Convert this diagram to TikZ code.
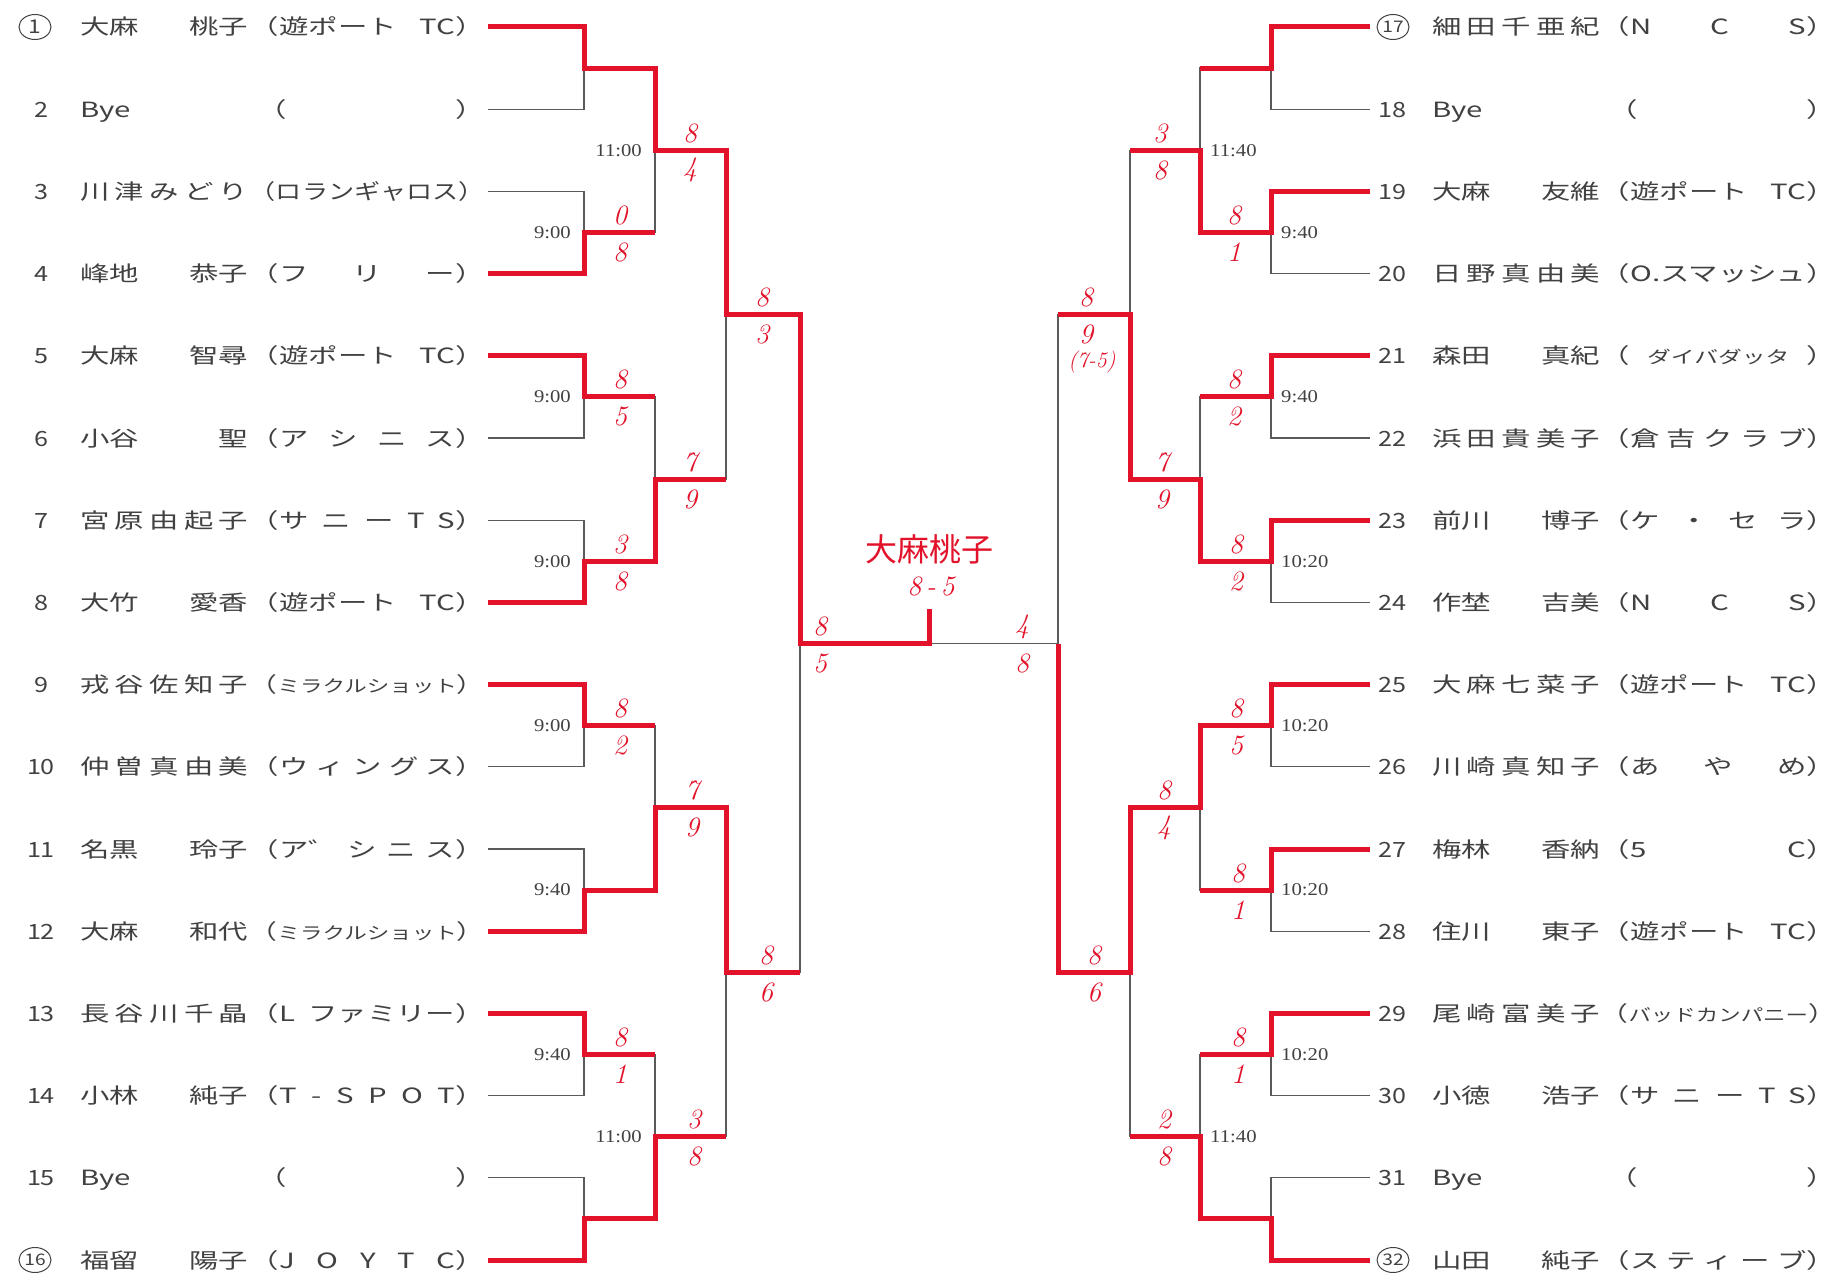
\documentclass[tikz,border=0pt]{standalone}
\usepackage{fontspec}
\usepackage{graphicx}
\usetikzlibrary{shapes.geometric}
\newfontfamily\jp{Noto Sans CJK JP}[FakeStretch=1.4]
\newfontfamily\jpn{Noto Sans CJK JP}[FakeStretch=1.2]
\newfontfamily\jph{Noto Sans CJK JP}
\newfontfamily\tmf{Liberation Serif}[FakeStretch=1.15]
\definecolor{pen}{RGB}{226,18,42}
\definecolor{lineg}{RGB}{90,90,90}
\definecolor{txt}{RGB}{65,65,65}
\newsavebox\fitb
\newcommand\fitto[2]{\sbox\fitb{#2}\ifdim\wd\fitb>#1\relax\resizebox{#1}{\height}{\usebox\fitb}\else\makebox[#1][l]{#2}\fi}
\newcommand\nmf[1]{\fitto{168pt}{#1}}
\newcommand\tmb[1]{\fitto{235pt}{#1}}
\newcommand\sml[1]{{\fontsize{17}{17}\selectfont #1}}
\newcommand\scp[5]{\node[sc] (#1a) at (#2,{#3-17}) {#4};\node[sc] (#1b) at (#2,{#3+20}) {#5};}
\begin{document}
\begin{tikzpicture}[x=1pt,y=-1pt,
 gl/.style={draw=lineg,line width=1.3pt},
 rl/.style={draw=pen,line width=5pt,line join=miter},
 nm/.style={font=\jp\fontsize{21}{21}\selectfont,text=txt,inner sep=0pt,text height=16pt,text depth=0pt},
 num/.style={font=\jpn\fontsize{21}{21}\selectfont,text=txt,inner sep=0pt,text height=16pt,text depth=0pt},
 cnum/.style={ellipse,draw=txt,line width=1pt,minimum width=32pt,minimum height=25pt,inner sep=0pt,font=\jpn\fontsize{19}{19}\selectfont,text=txt},
 tm/.style={font=\tmf\fontsize{18}{18}\selectfont,text=txt,inner sep=0pt},
 sc/.style={font=\fontsize{28}{28}\selectfont\itshape,text=pen,inner sep=0pt},
]
\useasboundingbox[fill=white] (0,0) rectangle (1843,1273);

% ---------- coordinates ----------
\foreach \i/\y in {1/27,2/109.2,3/191.4,4/273.6,5/355.8,6/438,7/520.2,8/602.4,9/684.6,10/766.8,11/849,12/931.2,13/1013.4,14/1095.6,15/1177.8,16/1260}
 {\coordinate (pL\i) at (488,\y); \coordinate (pR\i) at (1370,\y);}
\foreach \k/\y in {1/68.1,2/232.5,3/396.9,4/561.3,5/725.7,6/890.1,7/1054.5,8/1218.9}
 {\coordinate (LA\k) at (584,\y); \coordinate (RA\k) at (1271,\y);}
\foreach \k/\y in {1/150.3,2/479.1,3/807.9,4/1136.7}
 {\coordinate (LB\k) at (655,\y); \coordinate (RB\k) at (1200,\y);}
\foreach \k/\y in {1/314.7,2/972.3}
 {\coordinate (LC\k) at (726,\y); \coordinate (RC\k) at (1130,\y);}
\coordinate (LD) at (800,643.5);
\coordinate (RD) at (1058,643.5);
\coordinate (stubB) at (929,643.5);
\coordinate (stubT) at (929,609);

% ---------- left players ----------
\node[cnum] (nL1) at (35,27) {1};
\node[num] (nL2) at (41,109.2) {2};
\node[num] (nL3) at (41,191.4) {3};
\node[num] (nL4) at (41,273.6) {4};
\node[num] (nL5) at (41,355.8) {5};
\node[num] (nL6) at (41,438) {6};
\node[num] (nL7) at (41,520.2) {7};
\node[num] (nL8) at (41,602.4) {8};
\node[num] (nL9) at (41,684.6) {9};
\node[num] (nL10) at (41,766.8) {10};
\node[num] (nL11) at (41,849) {11};
\node[num] (nL12) at (41,931.2) {12};
\node[num] (nL13) at (41,1013.4) {13};
\node[num] (nL14) at (41,1095.6) {14};
\node[num] (nL15) at (41,1177.8) {15};
\node[cnum,font=\jpn\fontsize{16}{16}\selectfont] (nL16) at (35,1260) {16};

\node[nm,anchor=west] (aL1) at (80,27) {\nmf{大麻\hfill 桃子}};
\node[nm,anchor=west] (aL2) at (80,109.2) {\nmf{Bye}};
\node[nm,anchor=west] (aL3) at (80,191.4) {\nmf{川\hfill 津\hfill み\hfill ど\hfill り}};
\node[nm,anchor=west] (aL4) at (80,273.6) {\nmf{峰地\hfill 恭子}};
\node[nm,anchor=west] (aL5) at (80,355.8) {\nmf{大麻\hfill 智尋}};
\node[nm,anchor=west] (aL6) at (80,438) {\nmf{小谷\hfill 聖}};
\node[nm,anchor=west] (aL7) at (80,520.2) {\nmf{宮\hfill 原\hfill 由\hfill 起\hfill 子}};
\node[nm,anchor=west] (aL8) at (80,602.4) {\nmf{大竹\hfill 愛香}};
\node[nm,anchor=west] (aL9) at (80,684.6) {\nmf{戎\hfill 谷\hfill 佐\hfill 知\hfill 子}};
\node[nm,anchor=west] (aL10) at (80,766.8) {\nmf{仲\hfill 曽\hfill 真\hfill 由\hfill 美}};
\node[nm,anchor=west] (aL11) at (80,849) {\nmf{名黒\hfill 玲子}};
\node[nm,anchor=west] (aL12) at (80,931.2) {\nmf{大麻\hfill 和代}};
\node[nm,anchor=west] (aL13) at (80,1013.4) {\nmf{長\hfill 谷\hfill 川\hfill 千\hfill 晶}};
\node[nm,anchor=west] (aL14) at (80,1095.6) {\nmf{小林\hfill 純子}};
\node[nm,anchor=west] (aL15) at (80,1177.8) {\nmf{Bye}};
\node[nm,anchor=west] (aL16) at (80,1260) {\nmf{福留\hfill 陽子}};

\node[nm,anchor=east] (tL1) at (485,27) {\tmb{（遊ポート\hfill TC）}};
\node[nm,anchor=east] (tL2) at (485,109.2) {\tmb{\hspace*{8pt}（\hfill ）}};
\node[nm,anchor=east] (tL3) at (485,191.4) {\tmb{（ロランギャロス）}};
\node[nm,anchor=east] (tL4) at (485,273.6) {\tmb{（フ\hfill リ\hfill ー）}};
\node[nm,anchor=east] (tL5) at (485,355.8) {\tmb{（遊ポート\hfill TC）}};
\node[nm,anchor=east] (tL6) at (485,438) {\tmb{（ア\hfill シ\hfill ニ\hfill ス）}};
\node[nm,anchor=east] (tL7) at (485,520.2) {\tmb{（サ\hfill ニ\hfill ー\hfill T\hfill S）}};
\node[nm,anchor=east] (tL8) at (485,602.4) {\tmb{（遊ポート\hfill TC）}};
\node[nm,anchor=east] (tL9) at (485,684.6) {\tmb{（\hfill\sml{ミラクルショット}\hfill ）}};
\node[nm,anchor=east] (tL10) at (485,766.8) {\tmb{（ウ\hfill ィ\hfill ン\hfill グ\hfill ス）}};
\node[nm,anchor=east] (tL11) at (485,849) {\tmb{（ア゛\hfill シ\hfill ニ\hfill ス）}};
\node[nm,anchor=east] (tL12) at (485,931.2) {\tmb{（\hfill\sml{ミラクルショット}\hfill ）}};
\node[nm,anchor=east] (tL13) at (485,1013.4) {\tmb{（L\hfill ファミリー）}};
\node[nm,anchor=east] (tL14) at (485,1095.6) {\tmb{（T\hfill -\hfill S\hfill P\hfill O\hfill T）}};
\node[nm,anchor=east] (tL15) at (485,1177.8) {\tmb{\hspace*{8pt}（\hfill ）}};
\node[nm,anchor=east] (tL16) at (485,1260) {\tmb{（J\hfill O\hfill Y\hfill T\hfill C）}};

% ---------- right players ----------
\node[cnum,font=\jpn\fontsize{16}{16}\selectfont] (nR1) at (1393,27) {17};
\node[num] (nR2) at (1392,109.2) {18};
\node[num] (nR3) at (1392,191.4) {19};
\node[num] (nR4) at (1392,273.6) {20};
\node[num] (nR5) at (1392,355.8) {21};
\node[num] (nR6) at (1392,438) {22};
\node[num] (nR7) at (1392,520.2) {23};
\node[num] (nR8) at (1392,602.4) {24};
\node[num] (nR9) at (1392,684.6) {25};
\node[num] (nR10) at (1392,766.8) {26};
\node[num] (nR11) at (1392,849) {27};
\node[num] (nR12) at (1392,931.2) {28};
\node[num] (nR13) at (1392,1013.4) {29};
\node[num] (nR14) at (1392,1095.6) {30};
\node[num] (nR15) at (1392,1177.8) {31};
\node[cnum,font=\jpn\fontsize{16}{16}\selectfont] (nR16) at (1393,1260) {32};

\node[nm,anchor=west] (aR1) at (1432,27) {\nmf{細\hfill 田\hfill 千\hfill 亜\hfill 紀}};
\node[nm,anchor=west] (aR2) at (1432,109.2) {\nmf{Bye}};
\node[nm,anchor=west] (aR3) at (1432,191.4) {\nmf{大麻\hfill 友維}};
\node[nm,anchor=west] (aR4) at (1432,273.6) {\nmf{日\hfill 野\hfill 真\hfill 由\hfill 美}};
\node[nm,anchor=west] (aR5) at (1432,355.8) {\nmf{森田\hfill 真紀}};
\node[nm,anchor=west] (aR6) at (1432,438) {\nmf{浜\hfill 田\hfill 貴\hfill 美\hfill 子}};
\node[nm,anchor=west] (aR7) at (1432,520.2) {\nmf{前川\hfill 博子}};
\node[nm,anchor=west] (aR8) at (1432,602.4) {\nmf{作埜\hfill 吉美}};
\node[nm,anchor=west] (aR9) at (1432,684.6) {\nmf{大\hfill 麻\hfill 七\hfill 菜\hfill 子}};
\node[nm,anchor=west] (aR10) at (1432,766.8) {\nmf{川\hfill 崎\hfill 真\hfill 知\hfill 子}};
\node[nm,anchor=west] (aR11) at (1432,849) {\nmf{梅林\hfill 香納}};
\node[nm,anchor=west] (aR12) at (1432,931.2) {\nmf{住川\hfill 東子}};
\node[nm,anchor=west] (aR13) at (1432,1013.4) {\nmf{尾\hfill 崎\hfill 富\hfill 美\hfill 子}};
\node[nm,anchor=west] (aR14) at (1432,1095.6) {\nmf{小徳\hfill 浩子}};
\node[nm,anchor=west] (aR15) at (1432,1177.8) {\nmf{Bye}};
\node[nm,anchor=west] (aR16) at (1432,1260) {\nmf{山田\hfill 純子}};

\node[nm,anchor=east] (tR1) at (1836,27) {\tmb{（N\hfill C\hfill S）}};
\node[nm,anchor=east] (tR2) at (1836,109.2) {\tmb{\hspace*{8pt}（\hfill ）}};
\node[nm,anchor=east] (tR3) at (1836,191.4) {\tmb{（遊ポート\hfill TC）}};
\node[nm,anchor=east] (tR4) at (1836,273.6) {\tmb{（O.スマッシュ）}};
\node[nm,anchor=east] (tR5) at (1836,355.8) {\tmb{（\hfill\sml{ダイバダッタ}\hfill ）}};
\node[nm,anchor=east] (tR6) at (1836,438) {\tmb{（倉\hfill 吉\hfill ク\hfill ラ\hfill ブ）}};
\node[nm,anchor=east] (tR7) at (1836,520.2) {\tmb{（ケ\hfill ・\hfill セ\hfill ラ）}};
\node[nm,anchor=east] (tR8) at (1836,602.4) {\tmb{（N\hfill C\hfill S）}};
\node[nm,anchor=east] (tR9) at (1836,684.6) {\tmb{（遊ポート\hfill TC）}};
\node[nm,anchor=east] (tR10) at (1836,766.8) {\tmb{（あ\hfill や\hfill め）}};
\node[nm,anchor=east] (tR11) at (1836,849) {\tmb{（5\hfill C）}};
\node[nm,anchor=east] (tR12) at (1836,931.2) {\tmb{（遊ポート\hfill TC）}};
\node[nm,anchor=east] (tR13) at (1836,1013.4) {\tmb{（\hfill\sml{バッドカンパニー}\hfill ）}};
\node[nm,anchor=east] (tR14) at (1836,1095.6) {\tmb{（サ\hfill ニ\hfill ー\hfill T\hfill S）}};
\node[nm,anchor=east] (tR15) at (1836,1177.8) {\tmb{\hspace*{8pt}（\hfill ）}};
\node[nm,anchor=east] (tR16) at (1836,1260) {\tmb{（ス\hfill テ\hfill ィ\hfill ー\hfill ブ）}};

% ---------- bracket (gray) ----------
\foreach \k in {1,...,8}{
 \pgfmathtruncatemacro\ia{2*\k-1}\pgfmathtruncatemacro\ib{2*\k}
 \draw[gl] (pL\ia) -| (LA\k); \draw[gl] (pL\ib) -| (LA\k);
 \draw[gl] (pR\ia) -| (RA\k); \draw[gl] (pR\ib) -| (RA\k);}
\foreach \k in {1,...,4}{
 \pgfmathtruncatemacro\ia{2*\k-1}\pgfmathtruncatemacro\ib{2*\k}
 \draw[gl] (LA\ia) -| (LB\k); \draw[gl] (LA\ib) -| (LB\k);
 \draw[gl] (RA\ia) -| (RB\k); \draw[gl] (RA\ib) -| (RB\k);}
\foreach \k in {1,2}{
 \pgfmathtruncatemacro\ia{2*\k-1}\pgfmathtruncatemacro\ib{2*\k}
 \draw[gl] (LB\ia) -| (LC\k); \draw[gl] (LB\ib) -| (LC\k);
 \draw[gl] (RB\ia) -| (RC\k); \draw[gl] (RB\ib) -| (RC\k);}
\draw[gl] (LC1) -| (LD); \draw[gl] (LC2) -| (LD);
\draw[gl] (RC1) -| (RD); \draw[gl] (RC2) -| (RD);
\draw[gl] (LD) -- (RD);

% ---------- winners (red) ----------
\draw[rl] (pL1) -| (LA1) -| (LB1) -| (LC1) -| (LD) -- (stubB) -- (stubT);
\draw[rl] (pL4) -| (LA2) -- (LA2 -| LB1);
\draw[rl] (pL5) -| (LA3) -- (LA3 -| LB2);
\draw[rl] (pL8) -| (LA4) -| (LB2) -- (LB2 -| LC1);
\draw[rl] (pL9) -| (LA5) -- (LA5 -| LB3);
\draw[rl] (pL12) -| (LA6) -| (LB3) -| (LC2) -- (LC2 -| LD);
\draw[rl] (pL13) -| (LA7) -- (LA7 -| LB4);
\draw[rl] (pL16) -| (LA8) -| (LB4) -- (LB4 -| LC2);
\draw[rl] (pR1) -| (RA1) -- (RA1 -| RB1);
\draw[rl] (pR3) -| (RA2) -| (RB1) -- (RB1 -| RC1);
\draw[rl] (pR5) -| (RA3) -- (RA3 -| RB2);
\draw[rl] (pR7) -| (RA4) -| (RB2) -| (RC1) -- (RC1 -| RD);
\draw[rl] (pR9) -| (RA5) -| (RB3) -| (RC2) -| (RD);
\draw[rl] (pR11) -| (RA6) -- (RA6 -| RB3);
\draw[rl] (pR13) -| (RA7) -- (RA7 -| RB4);
\draw[rl] (pR16) -| (RA8) -| (RB4) -- (RB4 -| RC2);

% ---------- times ----------
\node[tm,anchor=east] (tiL2) at ([xshift=-13pt]LA2) {9:00};
\node[tm,anchor=east] (tiL3) at ([xshift=-13pt]LA3) {9:00};
\node[tm,anchor=east] (tiL4) at ([xshift=-13pt]LA4) {9:00};
\node[tm,anchor=east] (tiL5) at ([xshift=-13pt]LA5) {9:00};
\node[tm,anchor=east] (tiL6) at ([xshift=-13pt]LA6) {9:40};
\node[tm,anchor=east] (tiL7) at ([xshift=-13pt]LA7) {9:40};
\node[tm,anchor=east] (tiLB1) at ([xshift=-13pt]LB1) {11:00};
\node[tm,anchor=east] (tiLB4) at ([xshift=-13pt]LB4) {11:00};
\node[tm,anchor=west] (tiR2) at ([xshift=10pt]RA2) {9:40};
\node[tm,anchor=west] (tiR3) at ([xshift=10pt]RA3) {9:40};
\node[tm,anchor=west] (tiR4) at ([xshift=10pt]RA4) {10:20};
\node[tm,anchor=west] (tiR5) at ([xshift=10pt]RA5) {10:20};
\node[tm,anchor=west] (tiR6) at ([xshift=10pt]RA6) {10:20};
\node[tm,anchor=west] (tiR7) at ([xshift=10pt]RA7) {10:20};
\node[tm,anchor=west] (tiRB1) at ([xshift=10pt]RB1) {11:40};
\node[tm,anchor=west] (tiRB4) at ([xshift=10pt]RB4) {11:40};

% ---------- scores ----------
\scp{sL2}{620}{232.5}{0}{8}
\scp{sL3}{620}{396.9}{8}{5}
\scp{sL4}{620}{561.3}{3}{8}
\scp{sL5}{620}{725.7}{8}{2}
\scp{sL7}{620}{1054.5}{8}{1}
\scp{sLB1}{690}{150.3}{8}{4}
\scp{sLB2}{690}{479.1}{7}{9}
\scp{sLB3}{692}{807.9}{7}{9}
\scp{sLB4}{694}{1136.7}{3}{8}
\scp{sLC1}{762}{314.7}{8}{3}
\scp{sLC2}{766}{972.3}{8}{6}
\scp{sLD}{820}{643.5}{8}{5}
\scp{sR2}{1234}{232.5}{8}{1}
\scp{sR3}{1234}{396.9}{8}{2}
\scp{sR4}{1236}{561.3}{8}{2}
\scp{sR5}{1236}{725.7}{8}{5}
\scp{sR6}{1238}{890.1}{8}{1}
\scp{sR7}{1238}{1054.5}{8}{1}
\scp{sRB1}{1160}{150.3}{3}{8}
\scp{sRB2}{1162}{479.1}{7}{9}
\scp{sRB3}{1164}{807.9}{8}{4}
\scp{sRB4}{1164}{1136.7}{2}{8}
\scp{sRC1}{1086}{314.7}{8}{9}
\node[sc,font=\fontsize{22}{22}\selectfont\itshape] (sRC1c) at (1092,{314.7+47}) {(7-5)};
\scp{sRC2}{1094}{972.3}{8}{6}
\scp{sRD}{1022}{643.5}{4}{8}

% ---------- champion ----------
\node[font=\jph\fontsize{32}{32}\selectfont,text=pen,inner sep=0pt] (champ) at (929,549) {大麻桃子};
\node[sc] (champsc) at (931,586) {8\,-\,5};
\end{tikzpicture}
\end{document}
